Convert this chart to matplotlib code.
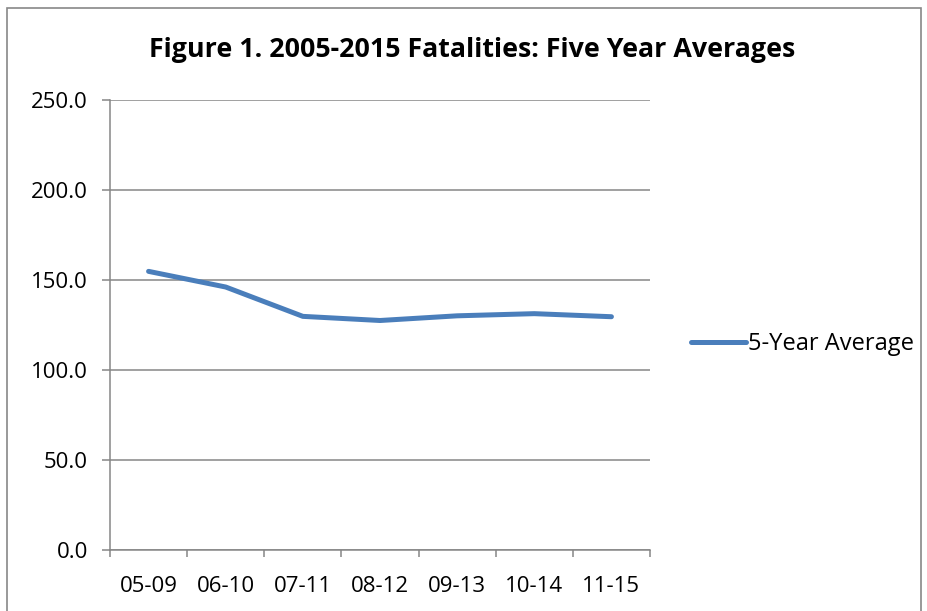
import matplotlib
matplotlib.use("Agg")
import matplotlib.pyplot as plt
from matplotlib.patches import Rectangle
import numpy as np

categories = ["05-09", "06-10", "07-11", "08-12", "09-13", "10-14", "11-15"]
five_year_avg = [154.8, 146.1, 129.8, 127.5, 130.1, 131.3, 129.6]
y_ticks = [0, 50, 100, 150, 200, 250]

plt.rcParams['font.family'] = ['Open Sans', 'DejaVu Sans']

fig = plt.figure(figsize=(9.27, 6.11), dpi=100)
fig.patch.set_facecolor("white")

# outer chart border
fig.patches.append(Rectangle((7/927, -0.05), (921-7)/927, 1.05 - 8/611,
                             transform=fig.transFigure, fill=False,
                             edgecolor="#888888", linewidth=1.2))

ax = fig.add_axes([110/927, 61/611, 540/927, 450/611])
x = np.arange(len(categories))
line, = ax.plot(x, five_year_avg, color="#4A7EBB", linewidth=3.6,
                solid_capstyle="round", solid_joinstyle="round",
                label="5-Year Average")

ax.set_xlim(-0.5, len(categories) - 0.5)
ax.set_ylim(0, 250)
ax.set_yticks(y_ticks)
ax.set_yticklabels([f"{v:.1f}" for v in y_ticks], fontsize=16)
ax.yaxis.grid(True, color="#868686", linewidth=1.1)
ax.set_axisbelow(True)

ax.set_xticks(np.arange(-0.5, len(categories)))
ax.set_xticklabels([])
ax.set_xticks(x, minor=True)
ax.set_xticklabels(categories, minor=True, fontsize=16)
ax.tick_params(axis="x", which="minor", length=0, pad=18.5)
ax.tick_params(axis="x", which="major", direction="out", length=5, color="#868686", width=1.1)
ax.tick_params(axis="y", direction="out", length=6, color="#868686", width=1.1, pad=10)

for s in ["top", "right"]:
    ax.spines[s].set_visible(False)
for s in ["left", "bottom"]:
    ax.spines[s].set_color("#868686")
    ax.spines[s].set_linewidth(1.1)

fig.text(472/927, 1 - 50/611, "Figure 1. 2005-2015 Fatalities: Five Year Averages",
         ha="center", va="center", fontsize=19.3, fontweight="bold")

leg = fig.legend(handles=[line], loc="center left",
                 bbox_to_anchor=(682/927, 1 - 344/611), frameon=False,
                 fontsize=17, handlelength=2.3, handletextpad=0.1,
                 borderaxespad=0)

fig.savefig("out.png", dpi=100, facecolor="white")
